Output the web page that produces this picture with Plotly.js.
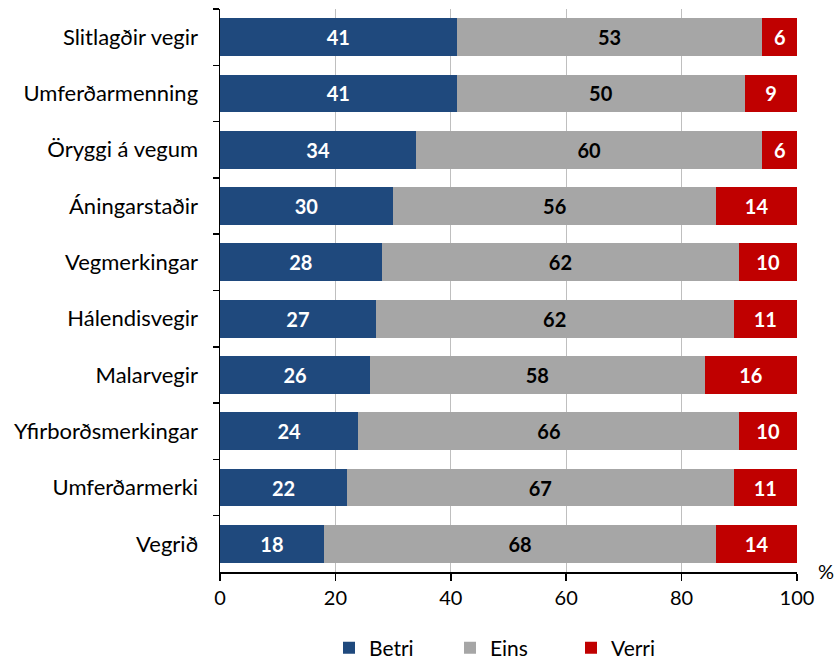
<!DOCTYPE html>
<html>
<head>
<meta charset="utf-8">
<script src="https://cdn.plot.ly/plotly-3.0.1.min.js"></script>
<style>html,body{margin:0;padding:0;background:#fff;}#chart{width:838px;height:659px;}</style>
</head>
<body>
<div id="chart"></div>
<script>
const categories = ["Slitlagðir vegir","Umferðarmenning","Öryggi á vegum","Áningarstaðir","Vegmerkingar","Hálendisvegir","Malarvegir","Yfirborðsmerkingar","Umferðarmerki","Vegrið"];
const betri = [41,41,34,30,28,27,26,24,22,18];
const eins  = [53,50,60,56,62,62,58,66,67,68];
const verri = [6,9,6,14,10,11,16,10,11,14];
const seriesNames = ["Betri","Eins","Verri"];
const xTicks = [0,20,40,60,80,100];

const FONT = "Lato, 'Open Sans', sans-serif";
function mk(name, vals, color, txtColor){
  return {
    type:"bar", orientation:"h", name:name,
    y:categories, x:vals, text:vals.map(String),
    textposition:"inside", insidetextanchor:"middle",
    textfont:{family:FONT, size:20, color:txtColor, weight:"bold"},
    constraintext:"none",
    marker:{color:color, line:{width:0}},
    hoverinfo:"skip", cliponaxis:false
  };
}
const data = [
  mk(seriesNames[0], betri, "#1F497D", "#ffffff"),
  mk(seriesNames[1], eins, "#A6A6A6", "#000000"),
  mk(seriesNames[2], verri, "#C00000", "#ffffff")
];
const layout = {
  width:838, height:659,
  margin:{l:220, r:41, t:9, b:87},
  barmode:"stack", bargap:0.33,
  paper_bgcolor:"#fff", plot_bgcolor:"#fff",
  font:{family:FONT, size:20, color:"#000"},
  showlegend:true,
  legend:{orientation:"h", xref:"container", yref:"container",
          x:329/838, xanchor:"left", y:11/659, yanchor:"middle",
          font:{family:FONT, size:21, color:"#000"}, traceorder:"normal",
          itemwidth:30, entrywidth:76, entrywidthmode:"pixels"},
  xaxis:{range:[0,100], tickvals:xTicks, ticktext:xTicks.map(String),
         showgrid:true, gridcolor:"#BFBFBF", gridwidth:1,
         showline:true, linecolor:"#000", linewidth:1.5,
         ticks:"outside", ticklen:7, tickcolor:"#000", tickwidth:1.5,
         zeroline:false, fixedrange:true, tickfont:{size:20}, automargin:false},
  yaxis:{autorange:"reversed", type:"category",
         showline:true, linecolor:"#000", linewidth:1.5,
         ticks:"outside", ticklen:6, tickcolor:"#000", tickwidth:1.5,
         tickson:"boundaries", showgrid:false, ticklabelstandoff:16,
         fixedrange:true, tickfont:{size:22}, automargin:false},
  annotations:[{text:"%", xref:"paper", yref:"paper", x:1.051, y:0.002, xanchor:"center", yanchor:"middle",
                showarrow:false, font:{family:FONT, size:20, color:"#000"}}]
};
Plotly.newPlot("chart", data, layout, {displayModeBar:false, staticPlot:true});
</script>
</body>
</html>
